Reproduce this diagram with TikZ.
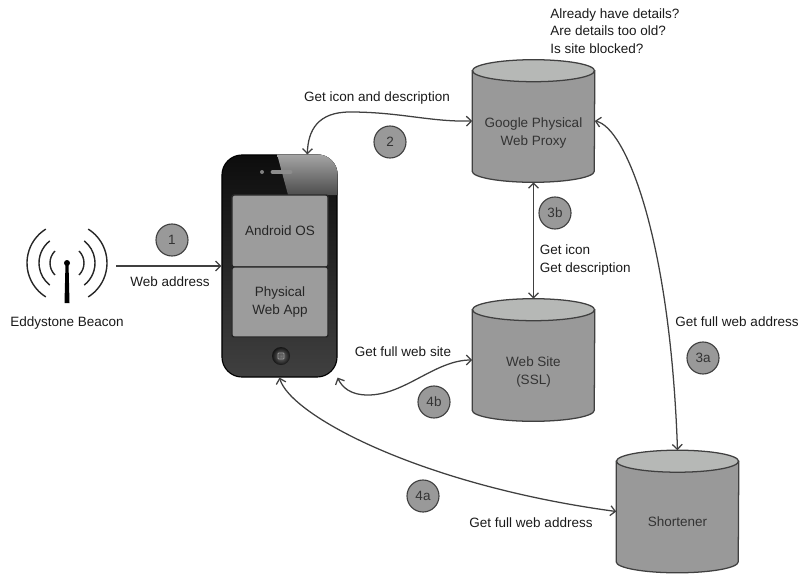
\documentclass[tikz,border=0pt]{standalone}
\usepackage{fontspec}
\setmainfont{Liberation Sans}
\usetikzlibrary{arrows.meta, backgrounds}
\definecolor{dbbody}{HTML}{999999}
\definecolor{dbtop}{HTML}{B6B8B6}
\definecolor{lineg}{HTML}{404040}
\definecolor{txtg}{HTML}{1A1A1A}
% text sits a little below the middle of a server
\newcommand{\dblabel}[1]{\raisebox{-0.29cm}[\height][\depth]{\begin{tabular}{@{}c@{}}#1\end{tabular}}}

\begin{document}
\begin{tikzpicture}[x=0.025cm, y=0.025cm, font=\fontsize{9.6}{12.6}\selectfont, text=txtg,
    >={Straight Barb[length=3.5pt,width=7pt]},
    db/.style={minimum width=3.05cm, minimum height=3.05cm, inner sep=0pt, text=black!80},
    num/.style={circle, draw=lineg, fill=dbbody, line width=0.8pt, minimum size=0.8cm,
      inner sep=0pt, text=black!80},
    link/.style={<->, draw=lineg, line width=0.9pt},
    section/.style={draw=black!85, line width=1pt, fill=black!39, rounded corners=1.5pt,
      minimum width=2.4cm, align=center, text=black!85}]
  \useasboundingbox (0,0) rectangle (802,575);

  % Beacon
  \node[minimum width=2.45cm, minimum height=2cm, inner sep=0pt] (beacon) at (67,309) {};
  \foreach \r/\a in {17/45, 28/52, 40/58} {
    \draw[black!85, line width=1pt] (67,312) ++(-\a:\r) arc (-\a:\a:\r);
    \draw[black!85, line width=1pt] (67,312) ++(180-\a:\r) arc (180-\a:180+\a:\r);
  }
  \fill[black] (65.5,312) -- (68.5,312) -- (69.5,272) -- (64.5,272) -- cycle;
  \fill[black] (67,312) circle (3);
  \node (beaconlbl) at (67,252) {Eddystone Beacon};

  % Phone
  \node[rounded corners=0.5cm, draw=black, line width=0.8pt, top color=black!95,
    bottom color=black!75, minimum width=2.875cm, minimum height=5.55cm] (phone) at (279.5,309) {};
  \begin{scope}
    \clip[rounded corners=0.5cm] (phone.south west) rectangle (phone.north east);
    \fill[top color=black!35, bottom color=black!70] (277,421) -- (345,421) -- (345,380) -- (288,380) -- cycle;
  \end{scope}
  \node[section, minimum height=1.8cm] (os) at (280,344) {Android OS};
  \node[section, minimum height=1.75cm] (app) at (280,273) {Physical\\Web App};
  \draw[black!45, line width=3.5pt, line cap=round] (273,403) -- (290,403);
  \fill[black!50] (262,403) circle (2);
  \node[circle, inner color=black!55, outer color=black!92, minimum size=0.45cm] (home) at (281,219) {};
  \draw[black!40, line width=0.6pt, rounded corners=0.5pt] (278,216) rectangle (284,222);

  % Servers
  \node[db] (proxy) at (533.5,454) {\dblabel{Google Physical\\Web Proxy}};
  \node[db] (website) at (533.5,215) {\dblabel{Web Site\\(SSL)}};
  \node[db] (shortener) at (677.5,63.5) {\dblabel{Shortener}};
  \begin{scope}[on background layer]
    \foreach \s in {proxy, website, shortener} {
      \filldraw[draw=lineg, fill=dbbody, line width=0.9pt]
        ([yshift=-0.275cm]\s.north west) -- ([yshift=0.275cm]\s.south west)
        arc[start angle=180, end angle=360, x radius=1.525cm, y radius=0.275cm]
        -- ([yshift=-0.275cm]\s.north east) -- cycle;
      \filldraw[draw=lineg, fill=dbtop, line width=0.9pt]
        ([yshift=-0.275cm]\s.north) ellipse [x radius=1.525cm, y radius=0.275cm];
    }
  \end{scope}
  \node[anchor=north west, align=left, inner sep=0pt] (checks) at (550,567)
    {Already have details?\\Are details too old?\\Is site blocked?};

  % Steps
  \draw[->, draw=lineg, line width=0.9pt] (beacon.east) -- (phone.west);
  \node (lbl1) at (170,293) {Web address};
  \node[num] (n1) at (172,335) {1};

  \draw[link] (phone.76) .. controls (308,445) and (318,463) .. (350,463)
    .. controls (400,463) and (430,453) .. (proxy.west);
  \node (lbl2) at (377,477) {Get icon and description};
  \node[num] (n2) at (390,433) {2};

  \draw[link] (proxy.south) -- (website.north);
  \node[anchor=west, align=left] (lbl3b) at (535,315) {Get icon\\Get description};
  \node[num] (n3b) at (555,362) {3b};

  \draw[link] (proxy.east) .. controls (625,448) and (670,340) .. (shortener.north);
  \node (lbl3a) at (737,253) {Get full web address};
  \node[num] (n3a) at (703,217) {3a};

  \draw[link] (website.west) .. controls (435,215) and (405,180) .. (368,180)
    .. controls (350,180) and (342,188) .. (phone.south east);
  \node (lbl4b) at (403,223) {Get full web site};
  \node[num] (n4b) at (434,173) {4b};

  \draw[link] (phone.south) .. controls (290,160) and (420,90) .. (shortener.west);
  \node (lbl4a) at (531,52) {Get full web address};
  \node[num] (n4a) at (423,79) {4a};
\end{tikzpicture}
\end{document}
